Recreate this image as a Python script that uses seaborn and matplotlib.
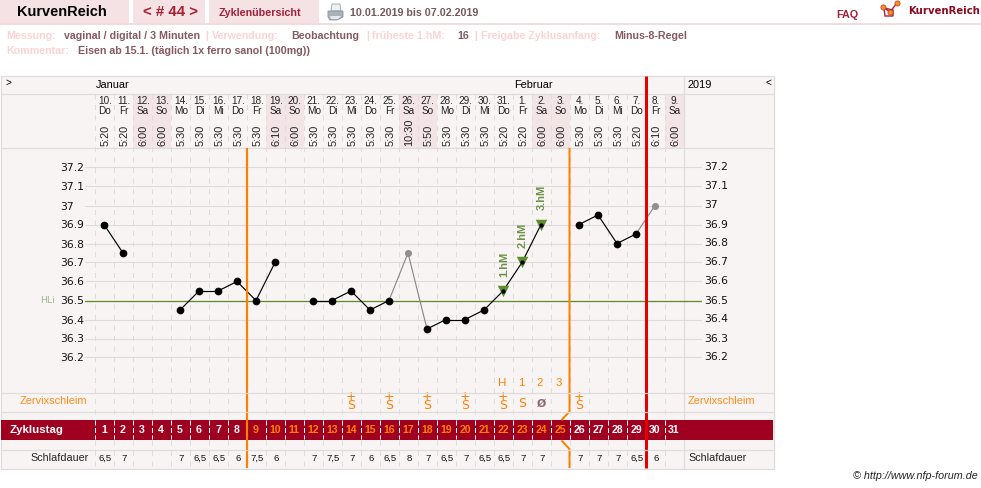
import matplotlib
matplotlib.use("Agg")
import matplotlib.pyplot as plt
from matplotlib.patches import Rectangle, Polygon
from matplotlib.transforms import blended_transform_factory
import pandas as pd
import seaborn as sns

# Cycle data, one entry per cycle day (1-31)
cycle_days = list(range(1, 32))
date_numbers = ["10.", "11.", "12.", "13.", "14.", "15.", "16.", "17.", "18.", "19.", "20.", "21.",
                "22.", "23.", "24.", "25.", "26.", "27.", "28.", "29.", "30.", "31.",
                "1.", "2.", "3.", "4.", "5.", "6.", "7.", "8.", "9."]
weekdays = ["Do", "Fr", "Sa", "So", "Mo", "Di", "Mi", "Do", "Fr", "Sa", "So", "Mo", "Di", "Mi", "Do", "Fr",
            "Sa", "So", "Mo", "Di", "Mi", "Do", "Fr", "Sa", "So", "Mo", "Di", "Mi", "Do", "Fr", "Sa"]
wake_times = ["5:20", "5:20", "6:00", "6:00", "5:30", "5:30", "5:30", "5:30", "5:30", "6:10", "6:00",
              "5:30", "5:30", "5:30", "5:30", "5:30", "10:30", "5:50", "5:30", "5:30", "5:30", "5:20",
              "5:20", "6:00", "6:00", "5:30", "5:30", "5:30", "5:20", "6:10", "6:00"]
temperatures = [36.9, 36.75, None, None, 36.45, 36.55, 36.55, 36.6, 36.5, 36.7, None, 36.5, 36.5, 36.55,
                36.45, 36.5, 36.75, 36.35, 36.4, 36.4, 36.45, 36.55, 36.7, 36.9, None, 36.9, 36.95,
                36.8, 36.85, 37.0, None]
excluded_days = [17, 30]
high_days = [22, 23, 24]
high_labels = ["1.hM", "2.hM", "3.hM"]
sleep_hours = ["6,5", "7", "", "", "7", "6,5", "6,5", "6", "7,5", "6", "", "7", "7,5", "7", "6", "6,5",
               "8", "7", "6,5", "7", "6,5", "6,5", "7", "7", "", "7", "7", "7", "6,5", "6", ""]
mucus_days = [14, 16, 18, 20, 22, 23, 24, 26]
mucus_codes = ["S+", "S+", "S+", "S+", "S+", "S", "Ø", "S+"]
peak_days = [22, 23, 24, 25]
peak_labels = ["H", "1", "2", "3"]
temp_ticks = [37.2, 37.1, 37.0, 36.9, 36.8, 36.7, 36.6, 36.5, 36.4, 36.3, 36.2]
temp_tick_labels = ["37.2", "37.1", "37", "36.9", "36.8", "36.7", "36.6", "36.5", "36.4", "36.3", "36.2"]
cover_line = 36.5
fertile_start, fertile_end = 8, 25    # orange rules sit after these cycle days
today_after = 29                      # red rule sits after this cycle day

W, H = 981, 488
PANEL = "#f9f4f4"
RULE = "#dedcdc"
BAND = "#a00020"
TAB = "#f4e2e4"
WEEKEND = "#f3e4e6"
ORANGE = "#ff8000"
RED = "#e60000"
GREEN = "#5e8f2e"
WINE = "#a4213a"
PALE = "#fbd3d3"
MAUVE = "#855a60"
SANS = "Liberation Sans"

sns.set_theme(style="white", rc={"font.family": SANS})
fig = plt.figure(figsize=(W / 100, H / 100), dpi=100, facecolor="white")


def px(size):
    """Font size or length in points for a length in output pixels."""
    return size * 0.72


def col_edge(day):
    return 94.5 + 19 * day


def col_mid(day):
    return col_edge(day) - 9.5


def pixel_axes(zorder):
    a = fig.add_axes([0, 0, 1, 1], zorder=zorder)
    a.set_xlim(0, W)
    a.set_ylim(H, 0)
    a.axis("off")
    a.patch.set_alpha(0)
    return a


base = pixel_axes(1)
over = pixel_axes(3)


def label(x, y, s, size=11, color="black", ha="left", va="center", weight="normal", family=SANS, **kw):
    base.text(x, y, s, fontsize=px(size), color=color, ha=ha, va=va, weight=weight, family=family, **kw)


# Page header
for x0, x1 in [(0, 128.5), (133, 205), (209, 319)]:
    base.add_patch(Rectangle((x0, 0), x1 - x0, 23, fc=TAB, ec="none"))
base.add_patch(Rectangle((0, 23), W, 2, fc="#f3dcdf", ec="none"))
label(16.5, 12.5, "KurvenReich", 14.5, "black", weight="bold")
label(143, 12.5, "< # 44 >", 15, "#a8202f", weight="bold")
label(219, 12.5, "Zyklenübersicht", 10.8, WINE, weight="bold")
label(350, 12.5, "10.01.2019 bis 07.02.2019", 10.6, "#75585d", weight="bold")
label(836, 14.5, "FAQ", 10.8, WINE, weight="bold")
label(908, 10.5, "KurvenReich", 10.1, "#8a0a24", weight="bold", family="DejaVu Sans")

# Printer icon
base.add_patch(Polygon([(332, 4), (340, 4), (341, 11), (331, 11)], fc="#eef1f5", ec="#9aa4ae", lw=0.6))
base.add_patch(Polygon([(328, 11), (343, 11), (343, 17), (337, 20), (330, 20), (328, 17)],
                       fc="#aab2ba", ec="#8a929a", lw=0.6))
base.add_patch(Polygon([(330, 16), (341, 16), (338, 19), (331, 19)], fc="#e6e9ec", ec="none"))

# Logo mark
base.add_patch(Polygon([(884, 8), (885, 16), (893, 16), (893, 10)], fc="none", ec="#a4213a", lw=1))
base.plot([883, 890, 897], [7, 12, 3], color="#a4213a", lw=1)
base.scatter([883, 890, 897], [7, 12, 3], s=14, c="#f5901e", edgecolors="#c0302a", linewidths=0.5, zorder=5)

# Measurement notes
notes = [(6, 36, "Messung:", PALE), (64, 36, "vaginal / digital / 3 Minuten", MAUVE), (205, 36, "|", PALE),
         (212, 36, "Verwendung:", PALE), (291, 36, "Beobachtung", MAUVE), (366, 36, "|", PALE),
         (372, 36, "früheste 1.hM:", PALE), (457, 36, "16", MAUVE), (474, 36, "|", PALE),
         (481, 36, "Freigabe Zyklusanfang:", PALE), (614, 36, "Minus-8-Regel", MAUVE),
         (6, 51, "Kommentar:", PALE), (78, 51, "Eisen ab 15.1. (täglich 1x ferro sanol (100mg))", MAUVE)]
for x, y, s, c in notes:
    label(x, y, s, 10.6, c, weight="bold")

# Chart panel, weekend shading and day-band
base.add_patch(Rectangle((0.5, 75.5), 773, 393, fc=PANEL, ec="none"))
for day, wd in zip(cycle_days, weekdays):
    if wd in ("Sa", "So"):
        base.add_patch(Rectangle((col_edge(day - 1), 93.5), 19, 54, fc=WEEKEND, ec="none"))
base.add_patch(Rectangle((1, 420), 772, 19.5, fc=BAND, ec="none", zorder=1.5))
for y in [75.5, 93.5, 147.5]:
    base.plot([0.5, 773.5], [y, y], color=RULE, lw=0.72 * 1.2)
for y in [392.5, 411.5, 449.5, 468.5]:
    over.plot([0.5, 773.5], [y, y], color=RULE, lw=0.72 * 1.2, zorder=4)
for x in [0.8, 683.5, 773.5]:
    base.plot([x, x], [75.5, 468.5], color=RULE, lw=0.72 * 1.3, zorder=1.4)

# Dashed day columns
for day in range(0, 31):
    x = col_edge(day)
    base.plot([x, x], [94, 420], color="#dcdcdc", lw=0.72, dashes=(5, 5.5), zorder=1.2)
    base.plot([x, x], [439.5, 468], color="#dcdcdc", lw=0.72, dashes=(5, 5.5), zorder=1.2)
    base.plot([x, x], [420, 439], color="white", lw=0.72, dashes=(5, 2.5), zorder=2)

# Month row
label(96, 85, "Januar", 11)
label(514, 85, "Februar", 11)
label(688, 85, "2019", 11)
label(5, 83, ">", 10)
label(766, 83, "<", 10)

# Date, weekday and wake-up time of each day
for day, num, wd, t in zip(cycle_days, date_numbers, weekdays, wake_times):
    x = col_mid(day) + 0.8
    label(x, 101.5, num, 10, "#222222", ha="center")
    label(x, 111.5, wd, 10, "#222222", ha="center")
    base.text(x + 0.7, 145.5, t, fontsize=px(11), color="#222222", rotation=90, ha="center", va="bottom", family=SANS)

# Cervical mucus row
label(20, 401, "Zervixschleim", 11, "#ff8c1a")
label(688, 401, "Zervixschleim", 11, "#ff8c1a")
for day, code in zip(mucus_days, mucus_codes):
    x = col_mid(day)
    if code == "Ø":
        label(x, 403.5, code, 11, "#8a6a70", ha="center", weight="bold", family="DejaVu Sans")
    elif code.endswith("+"):
        label(x, 401, "+\nS", 12.5, ORANGE, ha="center", family="DejaVu Sans", linespacing=0.55)
    else:
        label(x, 403.5, "S", 12.5, ORANGE, ha="center", family="DejaVu Sans")
for day, s in zip(peak_days, peak_labels):
    label(col_mid(day) - 1, 383, s, 11.5, ORANGE, ha="center")

# Cycle-day band
label(10, 430, "Zyklustag", 11.5, "white", weight="bold", zorder=3)
for day in cycle_days:
    infertile = day <= fertile_start or day > fertile_end
    label(col_mid(day), 430, str(day), 10.5, "white" if infertile else ORANGE, ha="center",
          weight="bold", zorder=3)

# Sleep row
label(30, 458, "Schlafdauer", 10.7, "#222222")
label(688, 458, "Schlafdauer", 10.7, "#222222")
for day, s in zip(cycle_days, sleep_hours):
    label(col_mid(day) + 1.5, 458.5, s, 9.5, "#111111", ha="center")

# Footer
label(853, 476, "© http://www.nfp-forum.de", 10.7, "#222222", style="italic")

# Temperature curve: the axes spans x 85-702 and y 148-392 in output pixels
ax = fig.add_axes([85 / W, 1 - 392 / H, (702 - 85) / W, (392 - 148) / H], zorder=2)
ax.patch.set_alpha(0)
x_limits = (0.5 + (85 - 94.5) / 19, 0.5 + (702 - 94.5) / 19)
y_limits = (37.2 - (392 - 167.5) / 190, 37.2 + (167.5 - 148) / 190)
sns.despine(ax=ax, left=True, bottom=True)
ax.set_xticks([])
ax.set_yticks(temp_ticks)
ax.set_yticklabels(temp_tick_labels, family="DejaVu Sans", fontsize=px(10.8), color="#111111")
ax.grid(axis="y", color="#dcdcdc", lw=0.72 * 1.1)
ax.set_axisbelow(True)
ax.tick_params(axis="y", length=0, pad=px(25), labelleft=True, labelright=False)
for tick in ax.get_yticklabels():
    tick.set_ha("left")
ax.axhline(cover_line, color=GREEN, lw=0.72 * 1.3, zorder=1.5)

# Right-hand temperature scale and cover-line tag
side_scale = blended_transform_factory(ax.transAxes, ax.transData)
for value, text in zip(temp_ticks, temp_tick_labels):
    ax.text(1 + 2 / (702 - 85), value, text, transform=side_scale, ha="left", va="center",
            family="DejaVu Sans", fontsize=px(10.8), color="#111111", clip_on=False)
ax.text(-45 / (702 - 85), cover_line, "HLi", transform=side_scale, ha="left", va="center",
        family="DejaVu Sans", fontsize=px(9.5), color="#9fb48d", clip_on=False)

curve = pd.DataFrame({"day": cycle_days, "temp": temperatures}).dropna()
curve["temp"] = curve["temp"].astype(float)
curve["excluded"] = curve["day"].isin(excluded_days)
curve["high"] = curve["day"].isin(high_days)

# Neighbouring measured days are joined; links touching an excluded day are grey
links = []
rows = curve[["day", "temp", "excluded"]].values
for (d0, t0, e0), (d1, t1, e1) in zip(rows, rows[1:]):
    if d1 - d0 == 1:
        links.append({"link": d0, "day": d0, "temp": t0, "grey": e0 or e1})
        links.append({"link": d0, "day": d1, "temp": t1, "grey": e0 or e1})
links = pd.DataFrame(links)
for is_grey, colour in [(True, "#8a8a8a"), (False, "black")]:
    sns.lineplot(data=links[links["grey"] == is_grey], x="day", y="temp", units="link", estimator=None,
                 color=colour, lw=0.85, ax=ax, legend=False, zorder=3)

normal = curve[~curve["excluded"] & ~curve["high"]]
sns.scatterplot(data=normal, x="day", y="temp", color="black", s=31, linewidth=0, ax=ax, zorder=4)
sns.scatterplot(data=curve[curve["excluded"]], x="day", y="temp", color="#8f8f8f", s=26, linewidth=0, ax=ax, zorder=4)
highs = curve[curve["high"]]
sns.scatterplot(data=highs, x="day", y="temp", color=GREEN, marker="v", s=68, linewidth=0, ax=ax, zorder=3.5)
sns.scatterplot(data=highs, x="day", y="temp", color="black", s=10, linewidth=0, ax=ax, zorder=4)
for (_, row), text in zip(highs.iterrows(), high_labels):
    ax.annotate(text, (row["day"], row["temp"]), xytext=(px(1), px(14)), textcoords="offset points",
                rotation=90, ha="center", va="bottom", fontsize=px(11), color="#6b9148", weight="bold")
ax.set_xlabel("")
ax.set_ylabel("")
ax.set_xlim(*x_limits)
ax.set_ylim(*y_limits)

# Fertile-window boundaries and today marker
start_x, end_x, today_x = col_edge(fertile_start), col_edge(fertile_end), col_edge(today_after)
over.plot([start_x, start_x], [148, 468], color=ORANGE, lw=px(2.2), solid_capstyle="butt", zorder=2)
over.plot([end_x, end_x, end_x - 8], [148, 411.5, 420], color=ORANGE, lw=px(2), solid_capstyle="butt", zorder=2)
over.plot([end_x - 8, end_x, end_x], [440.5, 449, 468], color=ORANGE, lw=px(2), solid_capstyle="butt", zorder=2)
over.plot([today_x, today_x], [75.5, 468], color=RED, lw=px(3), solid_capstyle="butt", zorder=2)

fig.savefig("out.png", dpi=100, facecolor="white")
